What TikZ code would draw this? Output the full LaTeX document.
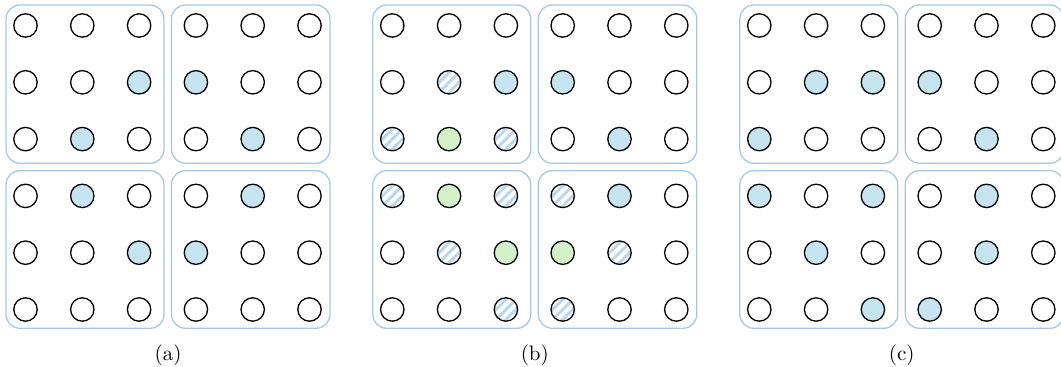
\documentclass[tikz,border=0pt]{standalone}
\definecolor{boxc}{HTML}{A4C8E8}
\definecolor{bluef}{HTML}{C6E4EF}
\definecolor{greenf}{HTML}{D3F1C9}
\definecolor{hatchc}{HTML}{BBD7F0}
\tikzset{
 dot/.style={circle, draw=black, line width=0.65pt, minimum size=11.7pt, inner sep=0pt, fill=white},
 ste/.style={dot},
 stb/.style={dot, fill=bluef},
 stg/.style={dot, fill=greenf},
 sth/.style={dot, path picture={\foreach \o in {-15,-10,...,15} \draw[hatchc, line width=1.5pt, shift={(path picture bounding box.center)}] (\o-15,-\o-15) -- (\o+15,-\o+15);}},
 group/.style={draw=boxc, line width=0.65pt, rounded corners=7pt},
 lab/.style={font=\fontsize{10.5}{12}\selectfont}
}
\newcommand\drawpanel[3]{%
 \draw[group] (#2+6,-5) rectangle (#2+164,-163.3);
 \draw[group] (#2+171.5,-5) rectangle (#2+330,-163.3);
 \draw[group] (#2+6,-170.7) rectangle (#2+164,-328.3);
 \draw[group] (#2+171.5,-170.7) rectangle (#2+330,-328.3);
 \foreach \row [count=\r from 0] in {#3} {
   \foreach \s [count=\c from 0] in \row {
     \node[st\s] (#1-\r-\c) at (#2+25.5+56.8*\c, -25.5-56.8*\r) {};
   }
 }
 \node[lab] (#1-cap) at (#2+168,-355) {(#1)};
}
\begin{document}
\begin{tikzpicture}[x=0.5pt,y=0.5pt]
\useasboundingbox (0,0) rectangle (1061,-367);
\drawpanel{a}{0}{{e,e,e,e,e,e},{e,e,b,b,e,e},{e,b,e,e,b,e},{e,b,e,e,b,e},{e,e,b,b,e,e},{e,e,e,e,e,e}}
\drawpanel{b}{366.8}{{e,e,e,e,e,e},{e,h,b,b,e,e},{h,g,h,e,b,e},{h,g,h,h,b,e},{e,h,g,g,h,e},{e,e,h,h,e,e}}
\drawpanel{c}{733.8}{{e,e,e,e,e,e},{e,b,b,b,e,e},{b,e,e,e,b,e},{b,e,b,e,b,e},{e,b,e,e,b,e},{e,e,b,b,e,e}}
\end{tikzpicture}
\end{document}
